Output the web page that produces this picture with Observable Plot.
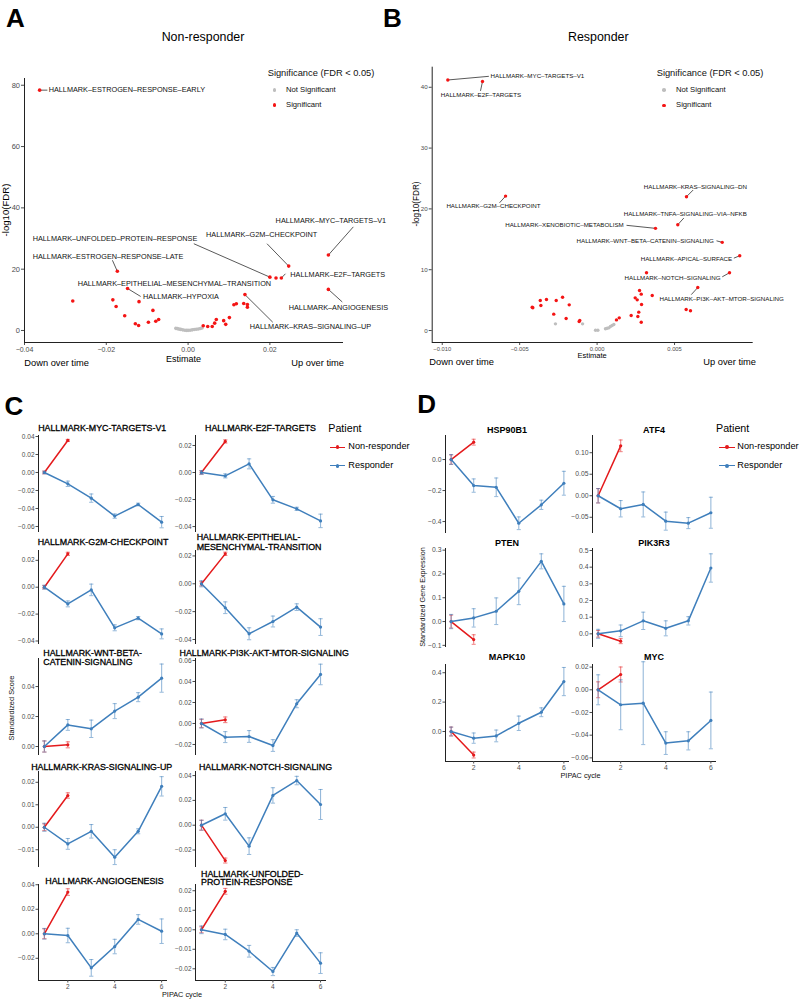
<!DOCTYPE html>
<html><head><meta charset="utf-8">
<script src="https://cdn.jsdelivr.net/npm/d3@7"></script>
<script src="https://cdn.jsdelivr.net/npm/@observablehq/plot@0.6"></script>
<style>
body{margin:0;background:#fff;}
#root{position:relative;width:800px;height:1000px;font-family:"Liberation Sans",Arial,Helvetica,sans-serif;color:#000;overflow:hidden;background:#fff;}
.t{position:absolute;white-space:nowrap;line-height:1;}
#root svg{position:absolute;overflow:visible;}
</style></head><body><div id="root"></div>
<script>
// ---------------- DATA ----------------
// Panel A: Non-responder volcano
const nrEstimate = [-0.0363, 0.0343, 0.0246, 0.0200, 0.0215, 0.0228, -0.0173, -0.0148, -0.0120, 0.0139, 0.0343,
  -0.0282, -0.0184, -0.0176, -0.0155, -0.0129, -0.0121, -0.0097, -0.0086, -0.0079, -0.0072,
  0.0037, 0.0048, 0.0059, 0.0065, 0.0069, 0.0087, 0.0092, 0.0101, 0.0112, 0.0118, 0.0136, 0.0145, 0.0145,
  -0.0030, -0.0026, -0.0022, -0.0018, -0.0013, -0.0008, -0.0004, 0.0000, 0.0005, 0.0010, 0.0015, 0.0020, 0.0025, 0.0030, 0.0034];
const nrLogFDR = [78.4, 24.6, 21.0, 17.4, 17.1, 17.1, 19.3, 13.7, 9.4, 11.7, 13.4,
  9.6, 10.0, 7.8, 4.8, 2.2, 1.65, 2.7, 6.55, 3.0, 3.6,
  1.55, 1.3, 1.3, 2.4, 3.6, 3.2, 2.0, 4.2, 8.4, 8.7, 8.8, 8.5, 7.6,
  0.7, 0.6, 0.45, 0.35, 0.2, 0.1, 0.05, 0.05, 0.1, 0.2, 0.3, 0.4, 0.5, 0.65, 0.8];
const nrSignificant = nrEstimate.map((_, i) => i < 34);
const nrLabText = ["HALLMARK–ESTROGEN–RESPONSE–EARLY", "HALLMARK–MYC–TARGETS–V1", "HALLMARK–G2M–CHECKPOINT",
  "HALLMARK–UNFOLDED–PROTEIN–RESPONSE", "HALLMARK–E2F–TARGETS", "HALLMARK–ESTROGEN–RESPONSE–LATE",
  "HALLMARK–EPITHELIAL–MESENCHYMAL–TRANSITION", "HALLMARK–HYPOXIA", "HALLMARK–KRAS–SIGNALING–UP", "HALLMARK–ANGIOGENESIS"];
const nrLabPoint = [0, 1, 2, 3, 5, 6, 4, 7, 9, 10];
const nrLabX = [-0.0341, 0.0214, 0.0044, -0.0380, 0.0250, -0.0380, -0.0270, -0.0110, 0.0151, 0.0246];
const nrLabY = [78.4, 35.9, 31.3, 30.0, 18.3, 24.1, 15.3, 10.9, 1.1, 7.6];
const nrLabAnchor = ["start", "start", "start", "start", "start", "start", "start", "start", "start", "start"];
const nrSegX = [-0.0344, 0.0404, 0.0193, 0.0014, 0.0238, -0.0185, null, -0.0116, 0.0207, 0.0377];
const nrSegY = [78.4, 33.8, 28.3, 28.3, 18.5, 22.9, null, 11.1, 2.7, 9.3];
const nrXTicks = [-0.04, -0.02, 0, 0.02];
const nrYTicks = [0, 20, 40, 60, 80];

// Panel B: Responder volcano
const rEstimate = [-0.00964, -0.0074, -0.00591, 0.00577, 0.00521, 0.00377, 0.00808, 0.00921, 0.00855, 0.0065, 0.00319,
  -0.00419, -0.00415, -0.00367, -0.00363, -0.00327, -0.0028, -0.00264, -0.00223, -0.002, -0.0018, -0.00116, -0.00112,
  0.00125, 0.00143, 0.0022, 0.00246, 0.00259, 0.00263, 0.00269, 0.00274, 0.00285, 0.00287, 0.00285, 0.00356, 0.00575, 0.00603,
  -0.00269, -0.00094, -0.0001, 0.00005, 0.00054, 0.00065, 0.00076, 0.00086, 0.00097, 0.00108];
const rLogFDR = [41.2, 40.95, 22.1, 22.0, 17.4, 16.8, 14.5, 12.3, 9.5, 7.07, 9.5,
  3.83, 3.75, 4.93, 4.11, 5.1, 2.69, 4.93, 5.48, 1.97, 4.22, 1.48, 1.64,
  1.75, 2.08, 2.47, 5.37, 5.04, 2.3, 3.02, 6.58, 5.98, 4.28, 1.37, 5.76, 3.45, 3.24,
  1.1, 1.1, 0.05, 0.05, 0.28, 0.38, 0.44, 0.66, 0.82, 0.99];
const rSignificant = rEstimate.map((_, i) => i < 37);
const rLabText = ["HALLMARK–MYC–TARGETS–V1", "HALLMARK–E2F–TARGETS", "HALLMARK–G2M–CHECKPOINT", "HALLMARK–KRAS–SIGNALING–DN",
  "HALLMARK–TNFA–SIGNALING–VIA–NFKB", "HALLMARK–XENOBIOTIC–METABOLISM", "HALLMARK–WNT–BETA–CATENIN–SIGNALING",
  "HALLMARK–APICAL–SURFACE", "HALLMARK–NOTCH–SIGNALING", "HALLMARK–PI3K–AKT–MTOR–SIGNALING"];
const rLabPoint = [0, 1, 2, 3, 4, 5, 6, 7, 8, 9];
const rLabX = [-0.00688, -0.0075, -0.00669, 0.00635, 0.00569, 0.00172, 0.00754, 0.00872, 0.00797, 0.00403];
const rLabY = [41.8, 38.7, 20.4, 23.6, 19.1, 17.4, 14.8, 11.7, 8.67, 5.15];
const rLabAnchor = ["start", "middle", "middle", "middle", "middle", "end", "end", "end", "end", "start"];
const rSegX = [-0.00699, -0.00753, -0.0063, 0.0062, 0.0056, 0.0019, 0.00771, 0.00883, 0.00808, 0.00608];
const rSegY = [41.8, 39.4, 21.0, 23.1, 18.5, 17.3, 14.75, 11.9, 8.83, 5.9];
const rXTicks = [-0.01, -0.005, 0, 0.005];
const rYTicks = [0, 10, 20, 30, 40];

// Panel C: hallmark scores over PIPAC cycles
const cycles = [1, 2, 3, 4, 5, 6];
const nonCycles = [1, 2];
const hallmarkTitles = ["HALLMARK-MYC-TARGETS-V1", "HALLMARK-E2F-TARGETS", "HALLMARK-G2M-CHECKPOINT",
  "HALLMARK-EPITHELIAL-\nMESENCHYMAL-TRANSITION", "HALLMARK-WNT-BETA-\nCATENIN-SIGNALING", "HALLMARK-PI3K-AKT-MTOR-SIGNALING",
  "HALLMARK-KRAS-SIGNALING-UP", "HALLMARK-NOTCH-SIGNALING", "HALLMARK-ANGIOGENESIS", "HALLMARK-UNFOLDED-\nPROTEIN-RESPONSE"];
const respC = [
  [0, -0.0126, -0.0285, -0.0485, -0.0356, -0.0552],
  [0, -0.0025, 0.0064, -0.0202, -0.0269, -0.0358],
  [0, -0.0124, -0.0020, -0.0302, -0.0230, -0.0347],
  [0, -0.0172, -0.0359, -0.0271, -0.0168, -0.0311],
  [0, 0.0144, 0.0118, 0.0236, 0.0329, 0.0456],
  [0, -0.0130, -0.0124, -0.0210, 0.0188, 0.0467],
  [0, -0.0074, -0.0018, -0.0133, -0.0018, 0.0182],
  [0, 0.0092, -0.0169, 0.0240, 0.0360, 0.0167],
  [0, -0.0014, -0.0278, -0.0104, 0.0117, 0.0021],
  [0, -0.0024, -0.0110, -0.0214, -0.0017, -0.0171]];
const respErrC = [
  [0.0015, 0.003, 0.0046, 0.0024, 0.0015, 0.0063],
  [0.0015, 0.0015, 0.0037, 0.0025, 0.0012, 0.005],
  [0.0015, 0.0022, 0.0043, 0.0022, 0.0012, 0.0037],
  [0.0022, 0.0042, 0.0043, 0.0039, 0.0024, 0.006],
  [0.0037, 0.0036, 0.0058, 0.005, 0.003, 0.0094],
  [0.0043, 0.0052, 0.0056, 0.0056, 0.0038, 0.0098],
  [0.0018, 0.0024, 0.003, 0.0033, 0.0011, 0.0043],
  [0.004, 0.0051, 0.0067, 0.0062, 0.0034, 0.0121],
  [0.0044, 0.0059, 0.0068, 0.0059, 0.0039, 0.01],
  [0.002, 0.0027, 0.003, 0.0021, 0.0017, 0.0053]];
const nonC = [[0, 0.0356], [0, 0.0230], [0, 0.0248], [0, 0.0215], [0, 0.0011], [0, 0.0035], [0, 0.0141], [0, -0.0285], [0, 0.0340], [0, 0.0197]];
const nonErrC = [[0.0015, 0.0012], [0.0012, 0.0012], [0.0012, 0.0012], [0.0015, 0.0012], [0.0037, 0.002], [0.004, 0.0027], [0.0015, 0.0012], [0.004, 0.002], [0.004, 0.0027], [0.0015, 0.0015]];
const cYTicks = [[-0.06, -0.04, -0.02, 0, 0.02, 0.04], [-0.04, -0.02, 0, 0.02], [-0.04, -0.02, 0, 0.02], [-0.04, -0.02, 0, 0.02],
  [0, 0.02, 0.04], [-0.02, 0, 0.02, 0.04, 0.06], [-0.01, 0, 0.01, 0.02], [-0.02, 0, 0.02, 0.04], [-0.02, 0, 0.02, 0.04], [-0.02, -0.01, 0, 0.01, 0.02]];
const xTicks = [2, 4, 6];

// Panel D: gene expression over PIPAC cycles
const genes = ["HSP90B1", "ATF4", "PTEN", "PIK3R3", "MAPK10", "MYC"];
const respD = [
  [0, -0.168, -0.179, -0.411, -0.292, -0.153],
  [0, -0.0302, -0.0202, -0.059, -0.0636, -0.0395],
  [0, 0.0154, 0.0434, 0.127, 0.253, 0.074],
  [0, 0.018, 0.078, 0.033, 0.078, 0.395],
  [0, -0.045, -0.03, 0.056, 0.131, 0.34],
  [0, -0.0132, -0.0118, -0.047, -0.045, -0.027]];
const respErrD = [
  [0.032, 0.043, 0.06, 0.041, 0.03, 0.077],
  [0.0167, 0.019, 0.029, 0.021, 0.0128, 0.036],
  [0.03, 0.0385, 0.056, 0.056, 0.0315, 0.074],
  [0.027, 0.035, 0.052, 0.045, 0.025, 0.085],
  [0.03, 0.035, 0.04, 0.049, 0.03, 0.096],
  [0.0132, 0.022, 0.0365, 0.01, 0.008, 0.025]];
const nonD = [[0, 0.112], [0, 0.116], [0, -0.0756], [0, -0.044], [0, -0.16], [0, 0.0135]];
const nonErrD = [[0.03, 0.019], [0.0167, 0.0136], [0.027, 0.02], [0.02, 0.015], [0.03, 0.02], [0.007, 0.0066]];
const dYTicks = [[-0.4, -0.2, 0], [-0.05, 0, 0.05, 0.1], [-0.1, 0, 0.1, 0.2, 0.3], [0, 0.1, 0.2, 0.3, 0.4, 0.5], [0, 0.2, 0.4], [-0.06, -0.04, -0.02, 0, 0.02]];
const dYFormat = [".1f", ".2f", ".1f", ".1f", ".1f", ".2f"];

// ---------------- LAYOUT / STYLE ----------------
const root = document.getElementById("root");
const FONT = '"Liberation Sans", Arial, Helvetica, sans-serif';
const RED_PT = "#F41414", GRAY_PT = "#BEBEBE";
const RED = "#E41A1C", BLUE = "#3F7FBC";
const AXIS = "#222";
const TICKCOL = "#4d4d4d";

function txt(s, x, y, size, o = {}) {
  const d = document.createElement("div");
  d.className = "t";
  d.textContent = s;
  d.style.fontSize = size + "px";
  d.style.fontWeight = o.weight || "normal";
  d.style.color = o.color || "#000";
  if (o.stroke) d.style.webkitTextStroke = o.stroke + "px " + (o.color || "#000");
  d.style.left = x + "px";
  d.style.top = y + "px";
  const a = o.anchor || "start";
  const tx = a === "start" ? "0" : a === "middle" ? "-50%" : "-100%";
  d.style.transform = `translate(${tx},-50%)` + (o.rotate ? " rotate(-90deg)" : "");
  root.append(d);
  return d;
}
function dot(x, y, r, col) {
  const d = document.createElement("div");
  d.style.cssText = `position:absolute;left:${x - r}px;top:${y - r}px;width:${2 * r}px;height:${2 * r}px;border-radius:50%;background:${col}`;
  root.append(d);
}
function keyLine(x0, x1, y, col) {
  const d = document.createElement("div");
  d.style.cssText = `position:absolute;left:${x0}px;top:${y - 0.8}px;width:${x1 - x0}px;height:1.6px;background:${col}`;
  root.append(d);
  dot((x0 + x1) / 2, y, 1.9, col);
}
function place(svg, left, top) {
  svg.style.left = left + "px";
  svg.style.top = top + "px";
  root.append(svg);
}
const plotStyle = {fontFamily: FONT, background: "transparent", color: TICKCOL, overflow: "visible"};

// ---------------- VOLCANO PANELS ----------------
function volcano(cfg) {
  const pts = cfg.est.map((e, i) => ({x: e, y: cfg.fdr[i], sig: cfg.sig[i]}));
  const labs = cfg.labText.map((t, i) => ({
    text: t, px: cfg.est[cfg.labPt[i]], py: cfg.fdr[cfg.labPt[i]],
    lx: cfg.labX[i], ly: cfg.labY[i], anchor: cfg.labAnchor[i], sx: cfg.segX[i], sy: cfg.segY[i]}));
  const segs = labs.filter(d => d.sx != null);
  const textMarks = ["start", "middle", "end"].map(a =>
    Plot.text(labs.filter(d => d.anchor === a), {x: "lx", y: "ly", text: "text", textAnchor: a, fontSize: cfg.labFs, fill: "#111"}));
  const svg = Plot.plot({
    width: cfg.width, height: cfg.height,
    marginLeft: cfg.mL, marginRight: cfg.mR, marginTop: cfg.mT, marginBottom: cfg.mB,
    x: {domain: cfg.xdom, label: null}, y: {domain: cfg.ydom, label: null},
    style: plotStyle,
    marks: [
      Plot.axisX(cfg.xticks, {tickFormat: d3.format(cfg.xfmt), tickSize: 3, tickPadding: 1.5, fontSize: cfg.xfs, label: null}),
      Plot.axisY(cfg.yticks, {tickFormat: d => String(d), tickSize: 3, tickPadding: 1.5, fontSize: cfg.yfs, label: null}),
      Plot.ruleX([cfg.xdom[0]], {stroke: AXIS, strokeWidth: 1}),
      Plot.ruleY([cfg.ydom[0]], {stroke: AXIS, strokeWidth: 1}),
      Plot.link(segs, {x1: "px", y1: "py", x2: "sx", y2: "sy", stroke: "#111", strokeWidth: 0.7}),
      Plot.dot(pts.filter(d => !d.sig), {x: "x", y: "y", r: cfg.r, fill: GRAY_PT}),
      Plot.dot(pts.filter(d => d.sig), {x: "x", y: "y", r: cfg.r, fill: RED_PT}),
      ...textMarks
    ]
  });
  place(svg, cfg.left, cfg.top);
}

volcano({left: 0, top: 0, width: 400, height: 380, mL: 24, mR: 57, mT: 78, mB: 38,
  xdom: [-0.04, 0.038], ydom: [-3.92, 82.2], xticks: nrXTicks, yticks: nrYTicks, xfmt: ".2f", xfs: 7, yfs: 7.5,
  est: nrEstimate, fdr: nrLogFDR, sig: nrSignificant, labText: nrLabText, labPt: nrLabPoint, labX: nrLabX, labY: nrLabY,
  labAnchor: nrLabAnchor, segX: nrSegX, segY: nrSegY, labFs: 7.3, r: 1.8});

volcano({left: 400, top: 0, width: 400, height: 380, mL: 31.7, mR: 47.3, mT: 66.7, mB: 38,
  xdom: [-0.010648, 0.010079], ydom: [-1.97, 43.3], xticks: rXTicks, yticks: rYTicks, xfmt: ".3f", xfs: 5.8, yfs: 6.2,
  est: rEstimate, fdr: rLogFDR, sig: rSignificant, labText: rLabText, labPt: rLabPoint, labX: rLabX, labY: rLabY,
  labAnchor: rLabAnchor, segX: rSegX, segY: rSegY, labFs: 6.2, r: 1.7});

// texts for A/B
txt("A", 15.5, 17.5, 26, {weight: "bold", anchor: "middle"});
txt("B", 392.5, 17.5, 26, {weight: "bold", anchor: "middle"});
txt("Non-responder", 203, 36.5, 12.4, {anchor: "middle"});
txt("Responder", 598.3, 36.5, 12.4, {anchor: "middle"});
txt("-log10(FDR)", 6, 210, 9.6, {anchor: "middle", rotate: true});
txt("-log10(FDR)", 417, 204, 8.2, {anchor: "middle", rotate: true});
txt("Estimate", 183.5, 359, 9, {anchor: "middle"});
txt("Estimate", 592.2, 356, 7.5, {anchor: "middle"});
txt("Down over time", 24.3, 364.3, 9.3);
txt("Up over time", 344, 364.3, 9.3, {anchor: "end"});
txt("Down over time", 429.3, 362.7, 9.3);
txt("Up over time", 756, 362.7, 9.3, {anchor: "end"});
[[267.7, 274.3, 286, 73.7, 90, 105], [656.7, 664, 676, 74, 90, 105.3]].forEach(([tx, dx, lx, ty, y1, y2]) => {
  txt("Significance (FDR < 0.05)", tx, ty, 9.3, {color: "#111"});
  dot(dx, y1, 1.8, GRAY_PT);
  txt("Not Significant", lx, y1, 7.7, {color: "#111"});
  dot(dx, y2, 1.8, RED_PT);
  txt("Significant", lx, y2, 7.7, {color: "#111"});
});

// ---------------- TREND PANELS ----------------
function trend(cfg) {
  const mL = 30, mR = 6, mT = 6, mB = cfg.showX ? 16 : 4;
  const respRows = cycles.map((c, i) => ({x: c, y: cfg.resp[i], lo: cfg.resp[i] - cfg.respErr[i], hi: cfg.resp[i] + cfg.respErr[i]}));
  const nonRows = nonCycles.map((c, i) => ({x: c, y: cfg.non[i], lo: cfg.non[i] - cfg.nonErr[i], hi: cfg.non[i] + cfg.nonErr[i]}));
  const cap = 0.09;
  const series = (data, col) => [
    Plot.ruleX(data, {x: "x", y1: "lo", y2: "hi", stroke: col, strokeOpacity: 0.55, strokeWidth: 1.1}),
    Plot.link(data, {x1: d => d.x - cap, x2: d => d.x + cap, y1: "hi", y2: "hi", stroke: col, strokeOpacity: 0.55, strokeWidth: 1}),
    Plot.link(data, {x1: d => d.x - cap, x2: d => d.x + cap, y1: "lo", y2: "lo", stroke: col, strokeOpacity: 0.55, strokeWidth: 1}),
    Plot.line(data, {x: "x", y: "y", stroke: col, strokeWidth: 1.5}),
    Plot.dot(data, {x: "x", y: "y", fill: col, r: 1.6})
  ];
  const marks = [
    Plot.axisY(cfg.yticks, {tickFormat: d3.format(cfg.yfmt), tickSize: 2.5, tickPadding: 1.5, fontSize: cfg.fs, label: null}),
    Plot.ruleX([0.75], {stroke: AXIS, strokeWidth: 1}),
    ...series(nonRows, RED),
    ...series(respRows, BLUE)
  ];
  if (cfg.showX) {
    marks.push(Plot.ruleY([cfg.ydom[0]], {stroke: AXIS, strokeWidth: 1}));
    marks.push(Plot.axisX(xTicks, {tickSize: 2.5, tickPadding: 1.5, fontSize: cfg.fs, label: null}));
  }
  const svg = Plot.plot({
    width: cfg.x1 - cfg.x0 + mL + mR, height: cfg.y1 - cfg.y0 + mT + mB,
    marginLeft: mL, marginRight: mR, marginTop: mT, marginBottom: mB,
    x: cfg.showX ? {domain: [0.75, 6.25], label: null} : {domain: [0.75, 6.25], label: null, axis: null},
    y: {domain: cfg.ydom, label: null},
    style: plotStyle,
    marks
  });
  place(svg, cfg.x0 - mL, cfg.y0 - mT);
}

// Panel C layout
const cCols = [[38, 167], [195, 326]];
const cRows = [[435, 532], [550, 644], [658, 755], [771, 867], [884, 980]];
const cDomains = [[-0.0667, 0.0411], [-0.0444, 0.0274], [-0.0426, 0.0273], [-0.0436, 0.0239], [-0.006, 0.0587],
  [-0.0305, 0.0619], [-0.0179, 0.0248], [-0.0341, 0.0433], [-0.0381, 0.0402], [-0.026, 0.0232]];
const cTitlePos = [[102.2, 428.3], [260.5, 428.3], [103, 542.3], [196.7, 536.7], [43.3, 652.7], [264.2, 653.3],
  [101.7, 766.7], [265.5, 766.7], [104.5, 880.7], [201, 874]];
const cTitleLine = [10, 10, 10, 10, 9, 10, 10, 10, 10, 8.3];
hallmarkTitles.forEach((t, i) => {
  const r = Math.floor(i / 2), c = i % 2;
  trend({x0: cCols[c][0], x1: cCols[c][1], y0: cRows[r][0], y1: cRows[r][1], ydom: cDomains[i], yticks: cYTicks[i], yfmt: ".2f",
    resp: respC[i], respErr: respErrC[i], non: nonC[i], nonErr: nonErrC[i], showX: r === 4, fs: 6.5});
  const lines = t.split("\n");
  const [px, py] = cTitlePos[i];
  lines.forEach((ln, k) => txt(ln, px, py + k * cTitleLine[i], 8.85, {stroke: 0.3, anchor: lines.length > 1 ? "start" : "middle"}));
});
txt("C", 14, 406, 26, {weight: "bold", anchor: "middle"});
txt("Standardized Score", 12.3, 707.5, 7.4, {anchor: "middle", rotate: true, color: "#111"});
txt("PIPAC cycle", 182, 994.7, 7.3, {anchor: "middle", color: "#111"});
txt("Patient", 328.3, 428.3, 10.7);
keyLine(330, 345, 447.3, RED);
txt("Non-responder", 348.3, 447.3, 9.2);
keyLine(330, 345, 465.7, BLUE);
txt("Responder", 348.3, 465.7, 9.2);

// Panel D layout
const dCols = [[445, 569], [592, 716]];
const dRows = [[435, 533], [548, 647], [664, 761]];
const dDomains = [[-0.477, 0.155], [-0.0877, 0.140], [-0.109, 0.307], [-0.082, 0.512], [-0.204, 0.456], [-0.0632, 0.0223]];
const dTitleY = [430, 542.7, 657.3];
genes.forEach((g, i) => {
  const r = Math.floor(i / 2), c = i % 2;
  trend({x0: dCols[c][0], x1: dCols[c][1], y0: dRows[r][0], y1: dRows[r][1], ydom: dDomains[i], yticks: dYTicks[i], yfmt: dYFormat[i],
    resp: respD[i], respErr: respErrD[i], non: nonD[i], nonErr: nonErrD[i], showX: r === 2, fs: 6.8});
  txt(g, (dCols[c][0] + dCols[c][1]) / 2, dTitleY[r], 9, {weight: "bold", anchor: "middle"});
});
txt("D", 426.7, 404, 26, {weight: "bold", anchor: "middle"});
txt("Standardized Gene Expression", 423.3, 596.7, 7.2, {anchor: "middle", rotate: true, color: "#111"});
txt("PIPAC cycle", 580.5, 776, 7.3, {anchor: "middle", color: "#111"});
txt("Patient", 716, 428.3, 10.7);
keyLine(719.3, 735, 447.3, RED);
txt("Non-responder", 737.3, 447.3, 9.2);
keyLine(719.3, 735, 465.7, BLUE);
txt("Responder", 737.3, 465.7, 9.2);
</script></body></html>
